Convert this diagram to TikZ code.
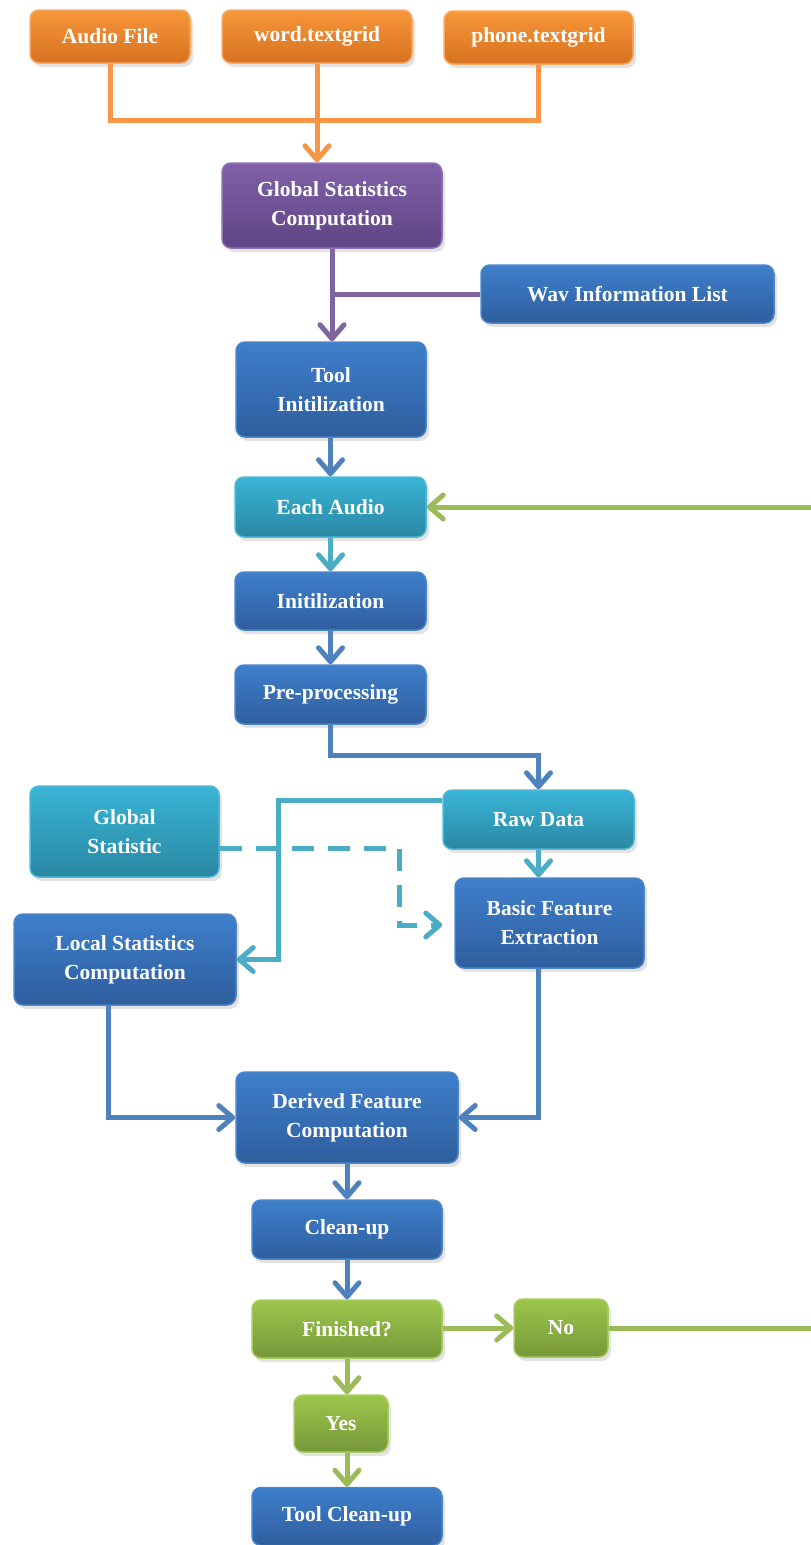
\documentclass[tikz,border=0pt]{standalone}
\usepackage{fontspec}
\setmainfont{Liberation Serif}
\usetikzlibrary{arrows.meta,shadows}

% box fills (top / bottom / rim) and connector colours
\definecolor{orT}{HTML}{F8963A}\definecolor{orB}{HTML}{D6721F}\definecolor{orD}{HTML}{FBA862}
\definecolor{puT}{HTML}{8060A8}\definecolor{puB}{HTML}{5F4584}\definecolor{puD}{HTML}{8E74B4}
\definecolor{blT}{HTML}{3E7FCB}\definecolor{blB}{HTML}{2F5E9E}\definecolor{blD}{HTML}{4A86C9}
\definecolor{cyT}{HTML}{39B5D6}\definecolor{cyB}{HTML}{2A87A3}\definecolor{cyD}{HTML}{4BB8D6}
\definecolor{grT}{HTML}{9DC64B}\definecolor{grB}{HTML}{76983A}\definecolor{grD}{HTML}{A9CC62}
\definecolor{orL}{HTML}{F79646}
\definecolor{puL}{HTML}{8064A2}
\definecolor{blL}{HTML}{4F81BD}
\definecolor{cyL}{HTML}{4BACC6}
\definecolor{grL}{HTML}{9BBB59}

\begin{document}
\begin{tikzpicture}[x=1pt,y=-1pt,
  box/.style={rounded corners=9pt, align=center, text=white, inner sep=0pt,
    font=\fontsize{21.5}{29}\selectfont\bfseries, line width=1.5pt,
    drop shadow={shadow xshift=3pt,shadow yshift=-4pt,opacity=0.22}},
  orbox/.style={box, top color=orT, bottom color=orB, draw=orD},
  pubox/.style={box, top color=puT, bottom color=puB, draw=puD},
  blbox/.style={box, top color=blT, bottom color=blB, draw=blD},
  cybox/.style={box, top color=cyT, bottom color=cyB, draw=cyD},
  grbox/.style={box, top color=grT, bottom color=grB, draw=grD},
  link/.style={line width=5pt},
  conn/.style={link, -{Straight Barb[length=14pt,width=24pt,round]}},
]
\useasboundingbox (0,0) rectangle (811,1545);
\clip (0,0) rectangle (811,1545);

% input files
\node[orbox, minimum width=160pt, minimum height=53pt] (af) at (110,36.5) {Audio File};
\node[orbox, minimum width=190pt, minimum height=53pt] (wg) at (317,36.5) {word.textgrid};
\node[orbox, minimum width=189pt, minimum height=53pt] (ph) at (538.5,37.5) {phone.textgrid};

% global stage
\node[pubox, minimum width=220pt, minimum height=85pt] (gs) at (332,205.5) {Global Statistics\\Computation};
\node[blbox, minimum width=293pt, minimum height=58pt] (wav) at (627.5,294) {Wav Information List};
\node[blbox, minimum width=190pt, minimum height=95pt] (ti) at (331,389.5) {Tool\\Initilization};

% per-audio loop
\node[cybox, minimum width=191pt, minimum height=60pt] (ea) at (330.5,507) {Each Audio};
\node[blbox, minimum width=191pt, minimum height=58pt] (ini) at (330.5,601) {Initilization};
\node[blbox, minimum width=191pt, minimum height=59pt] (pre) at (330.5,694.5) {Pre-processing};
\node[cybox, minimum width=191pt, minimum height=59pt] (raw) at (538.5,819.5) {Raw Data};
\node[cybox, minimum width=189pt, minimum height=91pt] (gst) at (124.5,831.5) {Global\\Statistic};
\node[blbox, minimum width=189pt, minimum height=90pt] (bfe) at (549.5,923) {Basic Feature\\Extraction};
\node[blbox, minimum width=222pt, minimum height=91pt] (ls) at (125,959.5) {Local Statistics\\Computation};
\node[blbox, minimum width=222pt, minimum height=91pt] (dfc) at (347,1117.5) {Derived Feature\\Computation};
\node[blbox, minimum width=190pt, minimum height=59pt] (cu) at (347,1229.5) {Clean-up};
\node[grbox, minimum width=190pt, minimum height=58pt] (fin) at (347,1329) {Finished?};
\node[grbox, minimum width=94pt, minimum height=58pt] (no) at (561,1328) {No};
\node[grbox, minimum width=94pt, minimum height=57pt] (yes) at (341,1423.5) {Yes};
\node[blbox, minimum width=190pt, minimum height=58pt] (tcu) at (347,1516.5) {Tool Clean-up};

% routing points
\coordinate (obus) at (0,120);
\coordinate (pbus) at (0,755);
\coordinate (rl) at (278,800);
\coordinate (gsd) at (399,848);
\coordinate (gse) at (399,925);
\coordinate (lsx) at (108,0);
\coordinate (bfx) at (538,0);
\coordinate (ret) at (840,0);

% inputs into global statistics
\draw[link, orL] (af.south) |- (obus -| ph.south) -- (ph.south);
\draw[conn, orL] (wg.south) -- (wg.south |- gs.north);

% global statistics and wav list into tool initialisation
\draw[conn, puL] (gs.south) -- (gs.south |- ti.north);
\draw[link, puL] (wav.west) -- (wav.west -| gs.south);

% main chain
\draw[conn, blL] (ti.south -| ea.north) -- (ea.north);
\draw[conn, cyL] (ea.south) -- (ini.north);
\draw[conn, blL] (ini.south) -- (pre.north);
\draw[conn, blL] (pre.south) -- (pre.south |- pbus) -| (raw.north);
\draw[conn, cyL] (raw.west |- rl) -- (rl) |- (ls.east);
\draw[conn, cyL] (raw.south) -- (raw.south |- bfe.north);
\draw[conn, cyL, dash pattern=on 22pt off 14pt, shorten >=12pt]
  (gst.east |- gsd) -- (gsd) -- (gse) -- (bfe.west |- gse);
\draw[conn, blL] (ls.south -| lsx) |- (dfc.west);
\draw[conn, blL] (bfe.south -| bfx) |- (dfc.east);
\draw[conn, blL] (dfc.south) -- (cu.north);
\draw[conn, blL] (cu.south) -- (fin.north);
\draw[conn, grL] (fin.east |- no.west) -- (no.west);
\draw[conn, grL] (fin.south) -- (fin.south |- yes.north);
\draw[conn, grL] (yes.south -| tcu.north) -- (tcu.north);

% loop back to the next audio file
\draw[conn, grL] (no.east) -- (no.east -| ret) |- (ea.east);
\end{tikzpicture}
\end{document}
